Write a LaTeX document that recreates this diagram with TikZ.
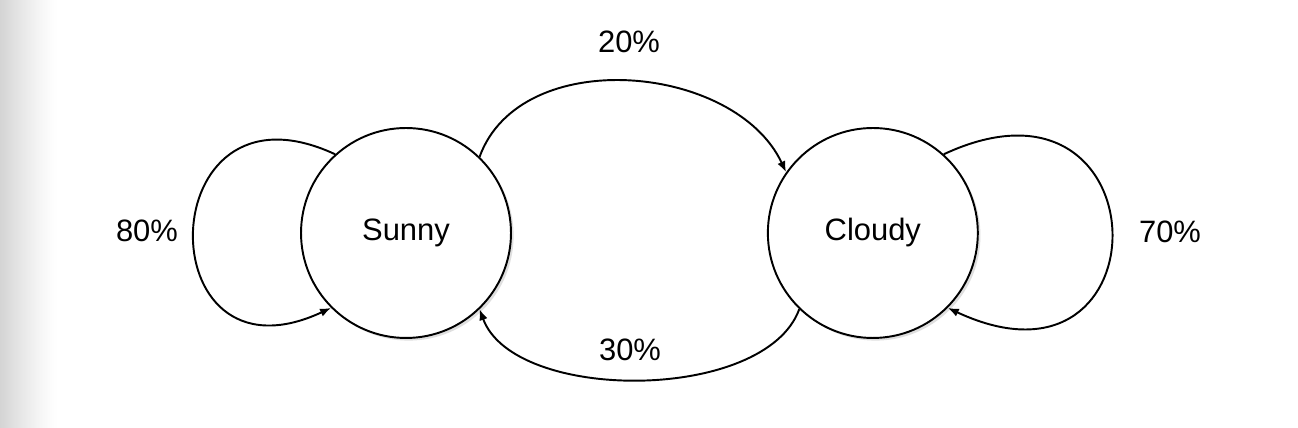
\documentclass[tikz,border=0pt]{standalone}
\usepackage{fontspec}
\setmainfont{Liberation Sans}
\usepackage{tikz}
\usetikzlibrary{positioning,arrows.meta,shadows}

\begin{document}
\begin{tikzpicture}[x=0.02cm, y=0.02cm,
        state/.style={draw, circle, line width=1.1pt, fill=white, minimum size=4.2cm,
            drop shadow={shadow xshift=1.5pt, shadow yshift=-1.5pt, opacity=0.25}},
        link/.style={line width=1.1pt, -{Latex[length=2.2mm, width=1.7mm]}},
        font=\fontsize{17.6pt}{21pt}\selectfont]
        \useasboundingbox (0,0) rectangle (1298,428);
        \fill[white] (0,0) rectangle (1298,428);
        % soft grey edge on the left
        \foreach \i in {0,...,57} {
            \pgfmathsetmacro\edgeamt{17*(1-\i/58)^1.3}
            \fill[black!\edgeamt] (\i,0) rectangle (\i+1.1,428);
        }
        \node[state] (sunny) at (406,195) {Sunny};
        \node[state, right = 5.1cm of sunny] (cloudy) {Cloudy};
        \node (p80) at (147,197) {80\%};
        \node (p20) at (629,386) {20\%};
        \node (p30) at (630,78) {30\%};
        \node (p70) at (1170,196) {70\%};
        \draw[link] (sunny.46) to[out=70, in=115] (cloudy.145);
        \draw[link] (cloudy.226) to[out=-110, in=-70, looseness=0.8] (sunny.314);
        \draw[link] (sunny.132) to[out=155, in=205, looseness=3.4] (sunny.225);
        \draw[link] (cloudy.48) to[out=25, in=-25, looseness=4.05] (cloudy.315);
    \end{tikzpicture}
\end{document}
